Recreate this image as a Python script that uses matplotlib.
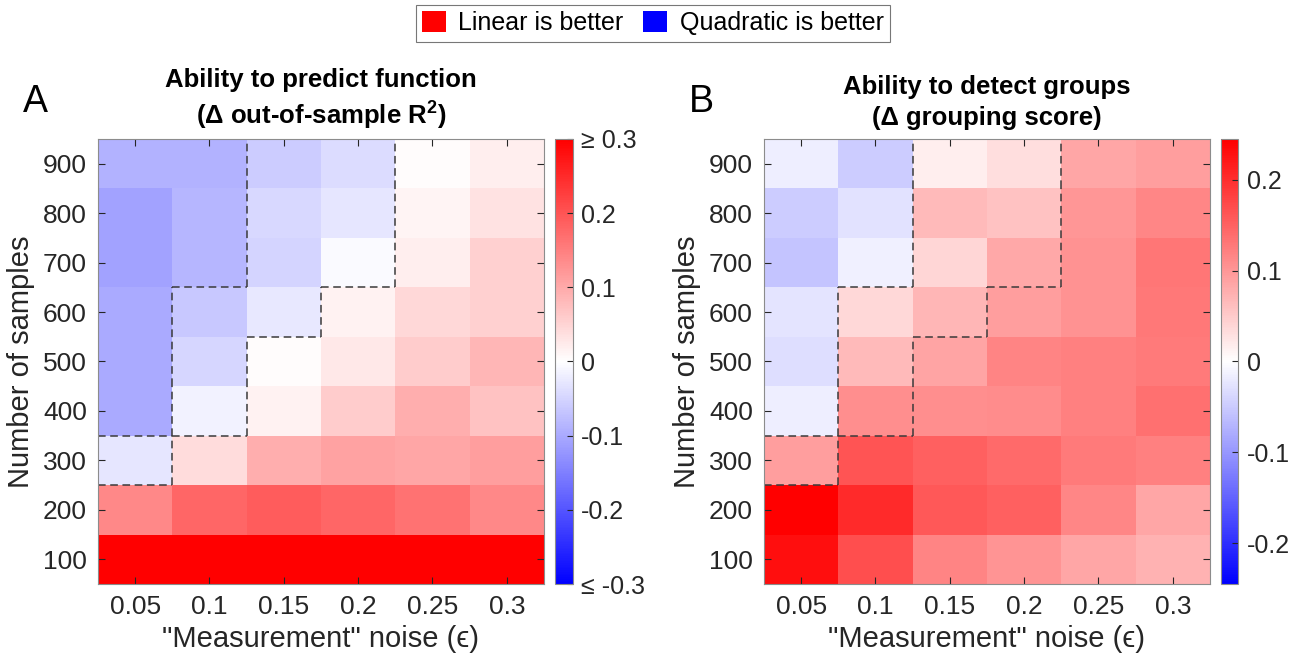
import numpy as np
import matplotlib
matplotlib.use("Agg")
import matplotlib.pyplot as plt
from matplotlib.colors import LinearSegmentedColormap, Normalize
from matplotlib.patches import Patch

plt.rcParams['font.family'] = ['Liberation Sans', 'DejaVu Sans']
plt.rcParams['mathtext.fontset'] = 'custom'
plt.rcParams['mathtext.rm'] = 'Liberation Sans'
plt.rcParams['mathtext.it'] = 'Liberation Sans:italic'
plt.rcParams['mathtext.bf'] = 'Liberation Sans:bold'

# data (rows: number of samples 100..900, cols: noise 0.05..0.3)
noise = [0.05, 0.1, 0.15, 0.2, 0.25, 0.3]
noise_labels = ['0.05', '0.1', '0.15', '0.2', '0.25', '0.3']
samples = [100, 200, 300, 400, 500, 600, 700, 800, 900]

# A: delta out-of-sample R^2
delta_r2 = np.array([
    [0.35, 0.35, 0.35, 0.35, 0.35, 0.35],
    [0.14, 0.18, 0.19, 0.18, 0.165, 0.14],
    [-0.03, 0.042, 0.096, 0.108, 0.105, 0.114],
    [-0.10, -0.015, 0.015, 0.06, 0.095, 0.072],
    [-0.10, -0.048, 0.003, 0.027, 0.06, 0.085],
    [-0.10, -0.065, -0.028, 0.015, 0.045, 0.055],
    [-0.11, -0.085, -0.05, -0.005, 0.02, 0.055],
    [-0.11, -0.085, -0.045, -0.03, 0.012, 0.035],
    [-0.09, -0.09, -0.06, -0.04, 0.003, 0.02],
])

# B: delta grouping score
delta_group = np.array([
    [0.23, 0.17, 0.118, 0.103, 0.086, 0.074],
    [0.245, 0.203, 0.159, 0.152, 0.115, 0.086],
    [0.093, 0.164, 0.152, 0.142, 0.127, 0.122],
    [-0.017, 0.108, 0.108, 0.11, 0.122, 0.137],
    [-0.032, 0.066, 0.088, 0.118, 0.122, 0.127],
    [-0.025, 0.037, 0.069, 0.093, 0.105, 0.13],
    [-0.056, -0.015, 0.039, 0.083, 0.105, 0.132],
    [-0.049, -0.027, 0.066, 0.059, 0.10, 0.115],
    [-0.017, -0.049, 0.017, 0.032, 0.086, 0.093],
])

# outlined regions (same in both panels)
mask_inner = np.array([
    [0, 0, 0, 0, 0, 0],
    [0, 0, 0, 0, 0, 0],
    [0, 0, 0, 0, 0, 0],
    [1, 0, 0, 0, 0, 0],
    [1, 0, 0, 0, 0, 0],
    [1, 0, 0, 0, 0, 0],
    [1, 1, 0, 0, 0, 0],
    [1, 1, 0, 0, 0, 0],
    [1, 1, 0, 0, 0, 0],
])
mask_outer = np.array([
    [0, 0, 0, 0, 0, 0],
    [0, 0, 0, 0, 0, 0],
    [1, 0, 0, 0, 0, 0],
    [1, 1, 0, 0, 0, 0],
    [1, 1, 0, 0, 0, 0],
    [1, 1, 1, 0, 0, 0],
    [1, 1, 1, 1, 0, 0],
    [1, 1, 1, 1, 0, 0],
    [1, 1, 1, 1, 0, 0],
])

cmap = LinearSegmentedColormap.from_list('bwr_m', [(0, 0, 1), (1, 1, 1), (1, 0, 0)])
tick_col = '#262626'
spine_col = '#8c8c8c'

fig = plt.figure(figsize=(13.03, 6.59), dpi=100)

xe = np.concatenate([[noise[0] - 0.025], np.array(noise) + 0.025])
ye = np.concatenate([[samples[0] - 50], np.array(samples) + 50])


def outline(ax, mask):
    # dashed line along interior cell edges where the mask changes
    nr, nc = mask.shape
    kw = dict(ls=(0, (5, 3)), color='#3a3a3a', lw=1.1)
    for i in range(nr - 1):
        for j in range(nc):
            if mask[i, j] != mask[i + 1, j]:
                ax.plot([xe[j], xe[j + 1]], [ye[i + 1], ye[i + 1]], **kw)
    for i in range(nr):
        for j in range(nc - 1):
            if mask[i, j] != mask[i, j + 1]:
                ax.plot([xe[j + 1], xe[j + 1]], [ye[i], ye[i + 1]], **kw)


def panel(rect, crect, data, vlim, title, letter, cticks, clabels):
    ax = fig.add_axes(rect)
    pc = ax.pcolormesh(xe, ye, data, cmap=cmap, norm=Normalize(-vlim, vlim))
    outline(ax, mask_outer)
    outline(ax, mask_inner)
    ax.set_xlim(xe[0], xe[-1])
    ax.set_ylim(ye[0], ye[-1])
    ax.set_xticks(noise)
    ax.set_xticklabels(noise_labels)
    ax.set_yticks(samples)
    ax.tick_params(direction='in', top=True, right=True, length=5, width=0.8,
                   labelsize=19, colors=tick_col, pad=8)
    for s in ax.spines.values():
        s.set_color(spine_col)
    ax.set_xlabel('"Measurement" noise (ϵ)', fontsize=21, color=tick_col, labelpad=4)
    ax.set_ylabel('Number of samples', fontsize=21, color=tick_col, labelpad=6)
    ax.set_title(title, fontsize=18.5, fontweight='bold', pad=10, linespacing=1.35)
    fig.text(rect[0] - 0.048, 0.845, letter, fontsize=27, ha='center', va='center')
    cax = fig.add_axes(crect)
    cb = fig.colorbar(pc, cax=cax)
    cb.set_ticks(cticks)
    cb.set_ticklabels(clabels)
    cb.ax.tick_params(direction='in', length=4, width=0.8, labelsize=18, colors=tick_col, pad=6)
    cb.outline.set_edgecolor(spine_col)
    return ax


panel([0.0752, 0.1138, 0.3423, 0.6753], [0.4259, 0.1138, 0.0138, 0.6753], delta_r2, 0.3,
      'Ability to predict function\n(Δ out-of-sample R$^{\\mathbf{2}}$)', 'A',
      [-0.3, -0.2, -0.1, 0, 0.1, 0.2, 0.3],
      ['≤ -0.3', '-0.2', '-0.1', '0', '0.1', '0.2', '≥ 0.3'])
panel([0.5863, 0.1138, 0.3423, 0.6753], [0.9371, 0.1138, 0.0132, 0.6753], delta_group, 0.245,
      'Ability to detect groups\n(Δ grouping score)', 'B',
      [-0.2, -0.1, 0, 0.1, 0.2],
      ['-0.2', '-0.1', '0', '0.1', '0.2'])

handles = [Patch(facecolor=(1, 0, 0), edgecolor='none', label='Linear is better'),
           Patch(facecolor=(0, 0, 1), edgecolor='none', label='Quadratic is better')]
leg = fig.legend(handles=handles, loc='center', bbox_to_anchor=(0.501, 0.965), ncol=2,
                 fontsize=18, frameon=True, fancybox=False, handlelength=0.95, handleheight=0.95,
                 handletextpad=0.5, columnspacing=0.8, borderpad=0.25, borderaxespad=0)
leg.get_frame().set_edgecolor('#555555')
leg.get_frame().set_linewidth(0.8)

fig.savefig('out.png', dpi=100)
